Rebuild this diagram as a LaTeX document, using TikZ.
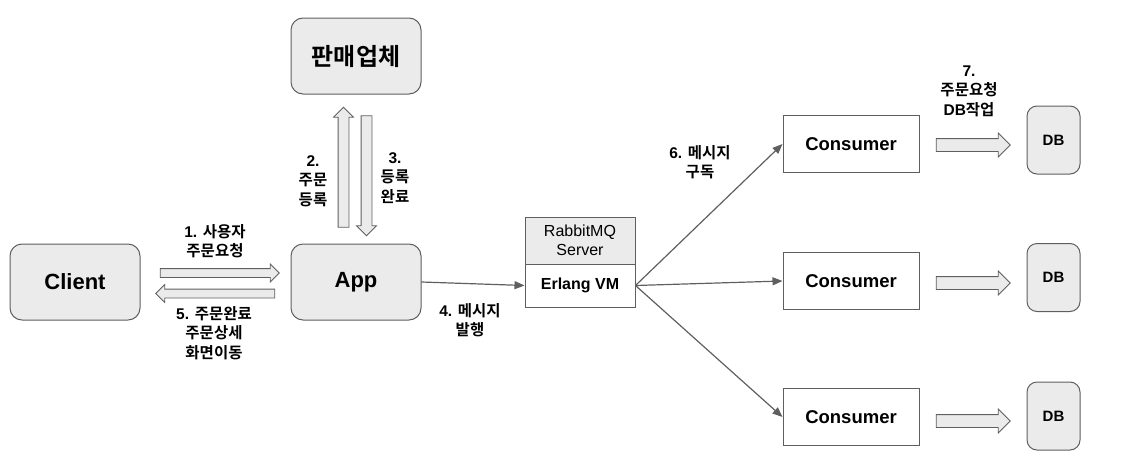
\documentclass[tikz,border=0pt]{standalone}
\usepackage{fontspec}
\setmainfont{Liberation Sans}
\newfontfamily\kr{Noto Sans CJK KR}[BoldFont={Noto Sans CJK KR Bold}]
\usepackage{tikz}
\usetikzlibrary{arrows.meta,shapes.arrows}
\usetikzlibrary{positioning}
\definecolor{boxgray}{HTML}{EBEBEB}
\definecolor{linegray}{HTML}{5F5F5F}
\tikzset{
    roundbox/.style={draw=linegray, fill=boxgray, rounded corners=12pt, line width=1pt,
        minimum width=130pt, minimum height=76pt, inner sep=0pt,
        font=\fontsize{22}{26}\selectfont\bfseries},
    dbbox/.style={draw=linegray, fill=boxgray, rounded corners=10pt, line width=1pt,
        minimum width=53pt, minimum height=68pt, inner sep=0pt,
        font=\fontsize{15}{18}\selectfont\bfseries},
    consumerbox/.style={draw=linegray, fill=white, line width=1pt,
        minimum width=136pt, minimum height=57pt, inner sep=0pt,
        font=\fontsize{18.5}{22}\selectfont\bfseries},
    mqtop/.style={draw=linegray, fill=boxgray, line width=1pt,
        minimum width=110pt, minimum height=47pt, inner sep=0pt, align=center,
        font=\fontsize{16}{19}\selectfont},
    mqbottom/.style={draw=linegray, fill=white, line width=1pt,
        minimum width=110pt, minimum height=43pt, inner sep=0pt,
        font=\fontsize{16}{19}\selectfont\bfseries},
    blockarrow/.style={single arrow, draw=linegray, fill=boxgray, line width=0.8pt,
        inner xsep=0pt, inner ysep=4pt, single arrow head extend=4.5pt},
    widearrow/.style={blockarrow, inner ysep=6pt, single arrow head extend=5.5pt,
        minimum height=74pt},
    link/.style={draw=linegray, line width=1.2pt, -{Triangle[length=10pt,width=8pt]}},
    lbl/.style={align=center, inner sep=0pt, font=\fontsize{15.5}{19.5}\selectfont\bfseries},
}

\begin{document}
\begin{tikzpicture}[x=1pt, y=-1pt]
\useasboundingbox (0,0) rectangle (1148,463);
	\node[roundbox] (client) at (75,282) {Client};
	\node[roundbox] (app) at (356,282) {App};
	\node[roundbox, font=\fontsize{24}{28}\selectfont\bfseries] (vendor) at (356,56) {\kr 판매업체};
	\node[mqtop] (rabbit) at (580,240.5) {RabbitMQ\\Server};
	\node[mqbottom] (erlang) at (580,285.5) {Erlang VM};
	\node[consumerbox] (cons1) at (851,144) {Consumer};
	\node[consumerbox] (cons2) at (851,281) {Consumer};
	\node[consumerbox] (cons3) at (851,417) {Consumer};
	\node[dbbox] (db1) at (1053.5,140) {DB};
	\node[dbbox] (db2) at (1053.5,277.5) {DB};
	\node[dbbox] (db3) at (1053.5,416) {DB};
	% block arrows
	\node[blockarrow, minimum height=119pt] (order) at (217.5,273) {};
	\node[blockarrow, minimum height=119pt, rotate=180] (done) at (217.5,293.5) {};
	\node[blockarrow, inner ysep=5pt, minimum height=120pt, rotate=90] (register) at (343.5,170) {};
	\node[blockarrow, inner ysep=5pt, minimum height=120pt, rotate=-90] (registered) at (366.5,173) {};
	\node[widearrow] (write1) at (970,145) {};
	\node[widearrow] (write2) at (970,283) {};
	\node[widearrow] (write3) at (970,421) {};
	% messages
	\draw[link] (app.east) -- (erlang.west);
	\draw[link] (erlang.east) -- (cons1.west);
	\draw[link] (erlang.east) -- (cons2.west);
	\draw[link] (erlang.east) -- (cons3.west);
	\node[lbl] (lbl1) at (215,241) {1. {\kr 사용자}\\{\kr 주문요청}};
	\node[lbl] (lbl2) at (313,181) {2.\\{\kr 주문}\\{\kr 등록}};
	\node[lbl] (lbl3) at (395,178) {3.\\{\kr 등록}\\{\kr 완료}};
	\node[lbl] (lbl4) at (470,320) {4. {\kr 메시지}\\{\kr 발행}};
	\node[lbl] (lbl5) at (214,333) {5. {\kr 주문완료}\\{\kr 주문상세}\\{\kr 화면이동}};
	\node[lbl] (lbl6) at (700,162) {6. {\kr 메시지}\\{\kr 구독}};
	\node[lbl] (lbl7) at (969,91) {7.\\{\kr 주문요청}\\DB{\kr 작업}};
\end{tikzpicture}
\end{document}
